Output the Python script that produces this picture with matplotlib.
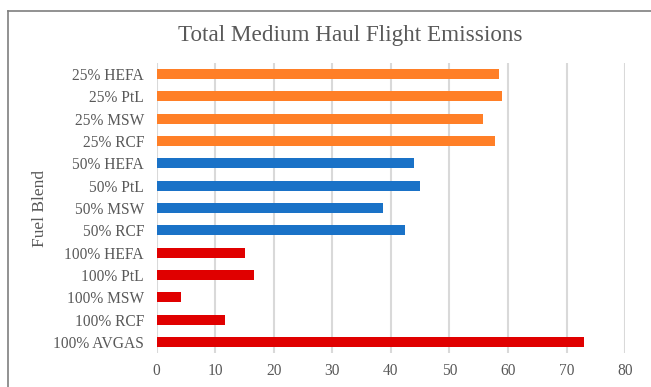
import matplotlib
matplotlib.use("Agg")
import matplotlib.pyplot as plt
from matplotlib.lines import Line2D

categories = ["100% AVGAS", "100% RCF", "100% MSW", "100% PtL", "100% HEFA",
              "50% RCF", "50% MSW", "50% PtL", "50% HEFA",
              "25% RCF", "25% MSW", "25% PtL", "25% HEFA"]
values = [72.9, 11.7, 4.1, 16.7, 15.1,
          42.4, 38.6, 44.9, 44.0,
          57.7, 55.8, 59.0, 58.5]
groups = ["100", "100", "100", "100", "100",
          "50", "50", "50", "50",
          "25", "25", "25", "25"]
group_colors = {"100": "#E00000", "50": "#1A72C7", "25": "#FF7F27"}
xticks = [0, 10, 20, 30, 40, 50, 60, 70, 80]

plt.rcParams['font.family'] = ['Liberation Serif', 'DejaVu Serif']
grey = "#595959"

fig = plt.figure(figsize=(6.51, 3.87), dpi=100)
ax = fig.add_axes([0.2404, 0.0879, 0.7201, 0.7493])

ypos = list(range(len(categories)))
colors = [group_colors[g] for g in groups]
ax.barh(ypos, values, height=0.45, color=colors, zorder=3)

ax.set_xlim(0, 80)
ax.set_ylim(-0.5, len(categories) - 0.5)
ax.set_xticks(xticks)
ax.set_xticklabels([str(t) for t in xticks])
ax.set_yticks(ypos)
ax.set_yticklabels(categories)
ax.tick_params(axis='both', length=0, colors=grey, labelsize=11.2)
ax.tick_params(axis='x', pad=7)
ax.tick_params(axis='y', pad=9)
ax.grid(axis='x', color='#D9D9D9', linewidth=1.5, zorder=0)
for s in ax.spines.values():
    s.set_visible(False)

ax.set_ylabel("Fuel Blend", color=grey, fontsize=12.5, labelpad=0)
ax.yaxis.set_label_coords(-40 / 468.8 - (156.5 - 40 - 40) / 468.8, 0.5)
ax.yaxis.label.set_position((0, 0.5))
ax.yaxis.set_label_coords((40 - 156.5) / 468.8, 0.5)
ax.yaxis.label.set_va('center')
fig.text(350 / 651, 1 - 36 / 387, "Total Medium Haul Flight Emissions",
         ha='center', va='center', fontsize=16.7, color=grey)

# outer chart border (top and left visible)
fig.add_artist(Line2D([7.5/651, 1.0], [1 - 10.5/387, 1 - 10.5/387], color='#7F7F7F', linewidth=1.2,
                      transform=fig.transFigure))
fig.add_artist(Line2D([7.5/651, 7.5/651], [0.0, 1 - 10.5/387], color='#7F7F7F', linewidth=1.2,
                      transform=fig.transFigure))

fig.savefig("out.png", dpi=100)
